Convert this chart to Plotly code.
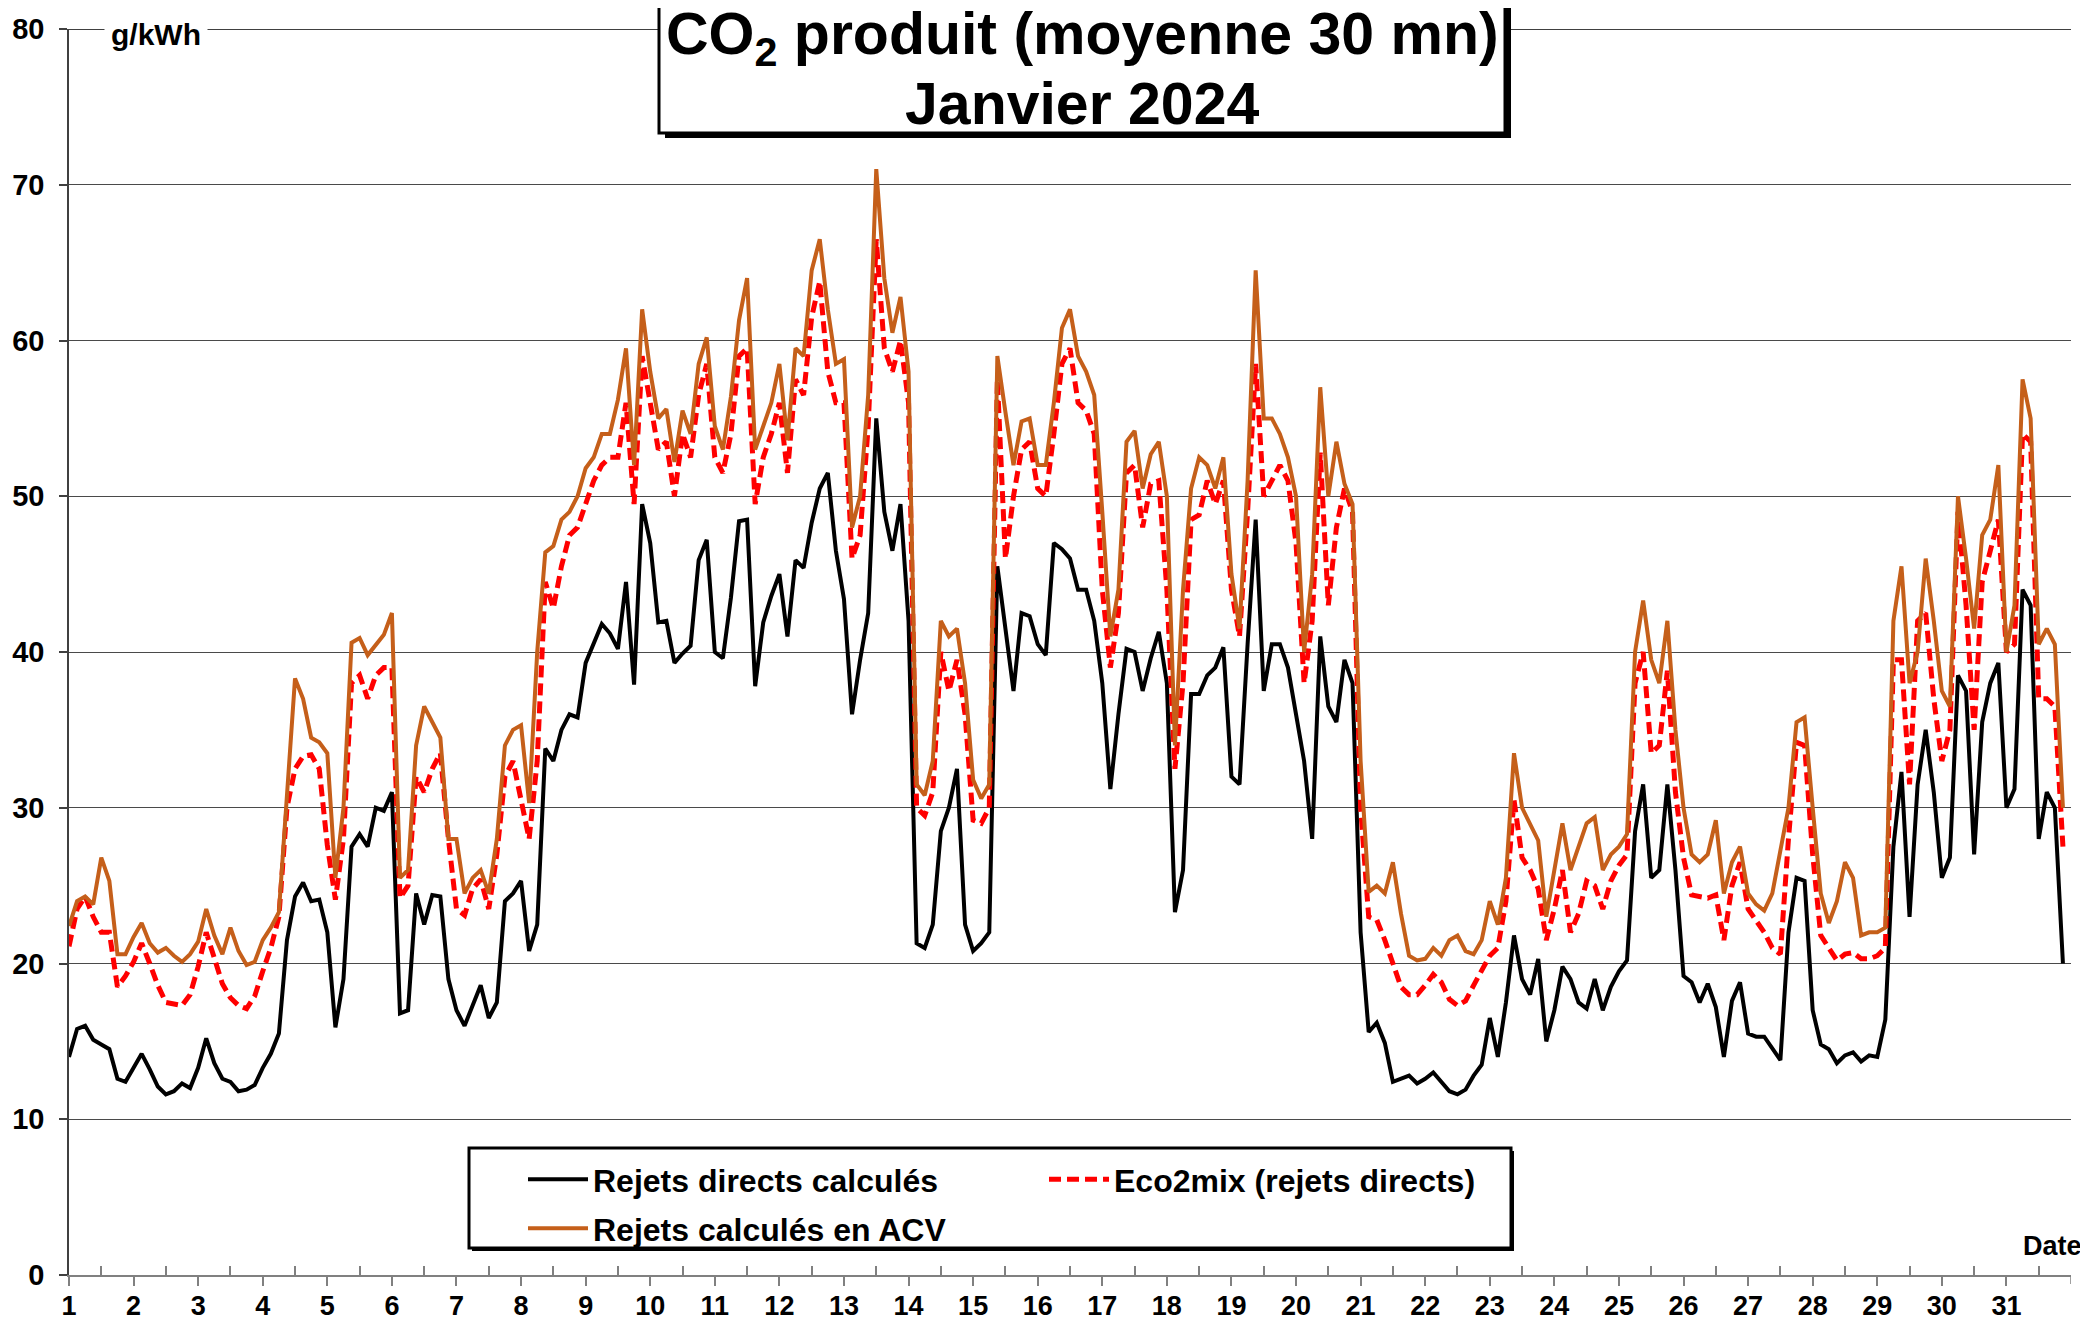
import numpy as np
import plotly.graph_objects as go

# Valeurs : 8 points par jour (pas de 3 h), du 1er au 31 janvier 2024
rejets_directs = [
    14.0, 15.8, 16.0, 15.1, 14.8, 14.5, 12.6, 12.4,  # 1
    13.3, 14.2, 13.2, 12.1, 11.6, 11.8, 12.3, 12.0,  # 2
    13.3, 15.2, 13.6, 12.6, 12.4, 11.8, 11.9, 12.2,  # 3
    13.3, 14.2, 15.5, 21.5, 24.3, 25.2, 24.0, 24.1,  # 4
    22.0, 15.9, 19.0, 27.5, 28.3, 27.5, 30.0, 29.8,  # 5
    31.0, 16.8, 17.0, 24.5, 22.5, 24.4, 24.3, 19.0,  # 6
    17.0, 16.0, 17.3, 18.6, 16.5, 17.5, 24.0, 24.5,  # 7
    25.3, 20.8, 22.5, 33.8, 33.0, 35.0, 36.0, 35.8,  # 8
    39.3, 40.5, 41.8, 41.2, 40.2, 44.5, 37.9, 49.5,  # 9
    47.0, 41.9, 42.0, 39.3, 39.9, 40.4, 45.9, 47.2,  # 10
    40.0, 39.6, 43.5, 48.4, 48.5, 37.8, 41.9, 43.6,  # 11
    45.0, 41.0, 45.9, 45.4, 48.3, 50.5, 51.5, 46.5,  # 12
    43.4, 36.0, 39.5, 42.5, 55.0, 49.0, 46.5, 49.5,  # 13
    42.0, 21.3, 21.0, 22.5, 28.5, 30.0, 32.5, 22.5,  # 14
    20.8, 21.3, 22.0, 45.5, 41.5, 37.5, 42.5, 42.3,  # 15
    40.5, 39.8, 47.0, 46.6, 46.0, 44.0, 44.0, 42.0,  # 16
    38.0, 31.2, 36.0, 40.2, 40.0, 37.5, 39.6, 41.3,  # 17
    38.0, 23.3, 26.0, 37.3, 37.3, 38.5, 39.0, 40.3,  # 18
    32.0, 31.5, 40.5, 48.5, 37.5, 40.5, 40.5, 39.0,  # 19
    36.0, 33.0, 28.0, 41.0, 36.5, 35.5, 39.5, 38.0,  # 20
    22.0, 15.6, 16.2, 14.9, 12.4, 12.6, 12.8, 12.3,  # 21
    12.6, 13.0, 12.4, 11.8, 11.6, 11.9, 12.8, 13.5,  # 22
    16.5, 14.0, 17.5, 21.8, 19.0, 18.0, 20.3, 15.0,  # 23
    17.0, 19.8, 19.0, 17.5, 17.1, 19.0, 17.0, 18.5,  # 24
    19.5, 20.2, 28.5, 31.5, 25.5, 26.0, 31.5, 26.0,  # 25
    19.2, 18.8, 17.5, 18.7, 17.2, 14.0, 17.6, 18.8,  # 26
    15.5, 15.3, 15.3, 14.6, 13.8, 22.0, 25.5, 25.3,  # 27
    17.0, 14.8, 14.5, 13.6, 14.1, 14.3, 13.7, 14.1,  # 28
    14.0, 16.4, 27.5, 32.3, 23.0, 31.5, 35.0, 31.0,  # 29
    25.5, 26.8, 38.5, 37.5, 27.0, 35.5, 38.0, 39.3,  # 30
    30.0, 31.2, 44.0, 43.0, 28.0, 31.0, 30.0, 20.0,  # 31
]

eco2mix = [
    21.1, 23.5, 24.3, 23.0, 22.0, 22.0, 18.5, 19.2,  # 1
    20.1, 21.3, 20.0, 18.6, 17.5, 17.4, 17.3, 18.0,  # 2
    19.8, 22.0, 20.3, 18.7, 17.8, 17.3, 17.1, 17.9,  # 3
    19.5, 21.0, 23.0, 30.0, 32.5, 33.3, 33.4, 32.5,  # 4
    27.6, 24.1, 28.0, 38.0, 38.5, 37.0, 38.5, 39.0,  # 5
    39.0, 24.2, 25.0, 32.0, 31.0, 32.5, 33.5, 28.0,  # 6
    23.5, 23.1, 24.8, 25.4, 23.5, 27.0, 32.0, 33.0,  # 7
    30.5, 28.0, 33.0, 44.5, 42.8, 45.5, 47.5, 48.0,  # 8
    49.5, 51.0, 52.0, 52.5, 52.5, 56.0, 49.5, 59.0,  # 9
    56.0, 53.0, 53.5, 50.0, 54.0, 52.5, 56.5, 58.5,  # 10
    52.5, 51.5, 54.0, 59.0, 59.5, 49.5, 52.5, 54.0,  # 11
    56.0, 51.5, 57.5, 56.5, 61.5, 63.8, 58.0, 56.0,  # 12
    56.0, 46.0, 47.5, 54.5, 66.5, 59.5, 58.0, 60.0,  # 13
    56.0, 30.0, 29.5, 31.0, 40.0, 37.5, 39.5, 36.0,  # 14
    29.2, 29.0, 30.0, 57.5, 46.0, 50.0, 53.0, 53.5,  # 15
    50.5, 50.0, 54.0, 58.5, 59.5, 56.0, 55.5, 54.0,  # 16
    44.0, 39.0, 42.5, 51.5, 52.0, 48.0, 50.8, 51.0,  # 17
    44.0, 32.5, 38.0, 48.5, 48.8, 51.0, 49.5, 51.0,  # 18
    44.0, 41.0, 49.0, 58.5, 50.0, 51.0, 52.0, 51.0,  # 19
    47.0, 38.0, 42.0, 52.8, 43.0, 48.0, 50.5, 49.0,  # 20
    30.0, 23.0, 22.8, 21.5, 19.9, 18.5, 18.0, 18.0,  # 21
    18.6, 19.3, 18.8, 17.7, 17.3, 17.6, 18.6, 19.5,  # 22
    20.5, 21.0, 24.0, 30.5, 26.8, 26.0, 24.8, 21.5,  # 23
    23.5, 26.0, 22.0, 23.2, 25.3, 25.0, 23.5, 25.3,  # 24
    26.3, 27.0, 38.0, 40.0, 33.5, 34.0, 38.8, 31.0,  # 25
    26.8, 24.4, 24.3, 24.2, 24.4, 21.5, 25.0, 26.5,  # 26
    23.5, 22.7, 22.0, 21.0, 20.6, 28.0, 34.2, 34.0,  # 27
    27.0, 21.8, 21.0, 20.2, 20.6, 20.7, 20.3, 20.3,  # 28
    20.5, 21.0, 39.5, 39.5, 31.5, 42.0, 42.5, 37.0,  # 29
    33.0, 35.0, 49.0, 43.0, 35.0, 44.5, 46.5, 48.5,  # 30
    40.0, 40.5, 54.0, 53.5, 37.0, 37.0, 36.5, 27.5,  # 31
]

rejets_acv = [
    22.4, 24.0, 24.3, 23.8, 26.8, 25.3, 20.6, 20.6,  # 1
    21.7, 22.6, 21.3, 20.7, 21.0, 20.5, 20.1, 20.6,  # 2
    21.4, 23.5, 21.8, 20.6, 22.3, 20.8, 19.9, 20.1,  # 3
    21.5, 22.3, 23.3, 31.0, 38.3, 37.0, 34.5, 34.2,  # 4
    33.5, 25.5, 30.0, 40.6, 40.9, 39.8, 40.5, 41.1,  # 5
    42.5, 25.5, 26.0, 34.0, 36.5, 35.5, 34.5, 28.0,  # 6
    28.0, 24.5, 25.5, 26.0, 24.5, 28.0, 34.0, 35.0,  # 7
    35.3, 30.3, 40.0, 46.4, 46.8, 48.5, 49.0, 50.0,  # 8
    51.8, 52.5, 54.0, 54.0, 56.2, 59.5, 52.0, 62.0,  # 9
    58.0, 55.0, 55.6, 52.2, 55.5, 54.0, 58.5, 60.2,  # 10
    54.5, 53.0, 56.4, 61.3, 64.0, 53.0, 54.5, 56.0,  # 11
    58.5, 53.6, 59.5, 59.0, 64.5, 66.5, 62.0, 58.5,  # 12
    58.8, 48.0, 50.0, 56.5, 71.0, 64.0, 60.5, 62.8,  # 13
    58.0, 31.5, 30.8, 33.0, 42.0, 41.0, 41.5, 38.0,  # 14
    31.8, 30.6, 31.5, 59.0, 55.4, 52.0, 54.8, 55.0,  # 15
    52.0, 52.0, 56.0, 60.8, 62.0, 59.0, 58.0, 56.5,  # 16
    49.0, 41.0, 44.0, 53.5, 54.2, 50.5, 52.7, 53.5,  # 17
    50.0, 34.0, 44.0, 50.5, 52.5, 52.0, 50.5, 52.5,  # 18
    45.0, 41.5, 51.0, 64.5, 55.0, 55.0, 54.0, 52.5,  # 19
    50.0, 40.0, 45.0, 57.0, 50.0, 53.5, 50.8, 49.5,  # 20
    33.0, 24.6, 25.0, 24.5, 26.5, 23.2, 20.5, 20.2,  # 21
    20.3, 21.0, 20.5, 21.5, 21.8, 20.8, 20.6, 21.5,  # 22
    24.0, 22.5, 25.5, 33.5, 30.0, 29.0, 27.9, 23.0,  # 23
    26.0, 29.0, 26.0, 27.5, 29.0, 29.4, 26.0, 27.0,  # 24
    27.5, 28.3, 40.0, 43.3, 39.5, 38.0, 42.0, 35.0,  # 25
    30.0, 27.0, 26.5, 27.0, 29.2, 24.5, 26.5, 27.5,  # 26
    24.5, 23.8, 23.4, 24.5, 27.2, 30.0, 35.5, 35.8,  # 27
    30.0, 24.5, 22.6, 24.0, 26.5, 25.5, 21.8, 22.0,  # 28
    22.0, 22.3, 42.0, 45.5, 38.0, 40.0, 46.0, 42.0,  # 29
    37.5, 36.5, 50.0, 46.0, 41.5, 47.5, 48.5, 52.0,  # 30
    40.0, 43.0, 57.5, 55.0, 40.5, 41.5, 40.5, 30.0,  # 31
]

jours = 1 + np.arange(len(rejets_directs)) / 8  # temps en jours
jours_ticks = list(range(1, 32))
jours_labels = [str(j) for j in jours_ticks]

FONT = 'Liberation Sans, Arial, sans-serif'
W, H = 2088, 1326
OFF = 8  # marge du <body> de la page html
ML, MR, MT, MB = 61, 25, 21, 59
PW, PH = W - ML - MR, H - MT - MB


# positions en pixels de l'écran -> coordonnées "paper"
def px_x(px):
    return (px - OFF - ML) / PW


def px_y(py):
    return (H - MB - (py - OFF)) / PH


fig = go.Figure()
fig.add_trace(go.Scatter(x=jours, y=rejets_directs, name='Rejets directs calculés', mode='lines',
                         line=dict(color='black', width=4), legend='legend'))
fig.add_trace(go.Scatter(x=jours, y=eco2mix, name='Eco2mix (rejets directs)', mode='lines',
                         line=dict(color='#FF0000', width=5, dash='12px,6px'), legend='legend'))
fig.add_trace(go.Scatter(x=jours, y=rejets_acv, name='Rejets calculés en ACV', mode='lines',
                         line=dict(color='#C55F1A', width=4), legend='legend2'))

shapes = [
    # ligne du haut (80)
    dict(type='line', xref='paper', yref='y', x0=px_x(61), x1=1, y0=80, y1=80,
         line=dict(color='black', width=1.5), layer='below'),
    # graduation de fin d'axe (32)
    dict(type='line', xref='x', yref='paper', x0=32, x1=32, y0=0, y1=-9 / PH,
         line=dict(color='#808080', width=1.5)),
    # cadre du titre (ombre + cadre)
    dict(type='rect', xref='paper', yref='paper', x0=px_x(665), x1=px_x(1511), y0=px_y(138), y1=px_y(-20),
         fillcolor='black', line=dict(width=0), layer='above'),
    dict(type='rect', xref='paper', yref='paper', x0=px_x(659), x1=px_x(1505), y0=px_y(133), y1=px_y(-20),
         fillcolor='white', line=dict(color='black', width=3), layer='above'),
    # cadre de la légende
    dict(type='rect', xref='paper', yref='paper', x0=px_x(472), x1=px_x(1514), y0=px_y(1251), y1=px_y(1151),
         fillcolor='black', line=dict(width=0), layer='above'),
    dict(type='rect', xref='paper', yref='paper', x0=px_x(469), x1=px_x(1511), y0=px_y(1248), y1=px_y(1148),
         fillcolor='white', line=dict(color='black', width=3), layer='above'),
]

annotations = [
    dict(text='CO<sub>2</sub> produit (moyenne 30 mn)', xref='paper', yref='paper',
         x=px_x(1082), y=px_y(38), xanchor='center', yanchor='middle', showarrow=False,
         font=dict(family=FONT, size=59, color='black', weight='bold')),
    dict(text='Janvier 2024', xref='paper', yref='paper',
         x=px_x(1082), y=px_y(104), xanchor='center', yanchor='middle', showarrow=False,
         font=dict(family=FONT, size=59, color='black', weight='bold')),
    dict(text='g/kWh', xref='paper', yref='paper', x=px_x(156), y=px_y(34),
         xanchor='center', yanchor='middle', showarrow=False, bgcolor='white', borderpad=6,
         font=dict(family=FONT, size=30, color='black', weight='bold')),
    dict(text='Date', xref='paper', yref='paper', x=px_x(2084), y=px_y(1246),
         xanchor='right', yanchor='middle', showarrow=False,
         font=dict(family=FONT, size=27, color='black', weight='bold')),
]

fig.update_layout(
    width=W, height=H, template='none',
    paper_bgcolor='white', plot_bgcolor='white',
    margin=dict(l=ML, r=MR, t=MT, b=MB, pad=0, autoexpand=False),
    font=dict(family=FONT, color='black'),
    shapes=shapes, annotations=annotations,
    showlegend=True,
    legend=dict(orientation='h', x=px_x(523), y=px_y(1152), xanchor='left', yanchor='top',
                bgcolor='rgba(0,0,0,0)', borderwidth=0, entrywidth=446, itemwidth=60,
                font=dict(family=FONT, size=32, color='black', weight='bold')),
    legend2=dict(orientation='h', x=px_x(523), y=px_y(1201), xanchor='left', yanchor='top',
                 bgcolor='rgba(0,0,0,0)', borderwidth=0, itemwidth=60,
                 font=dict(family=FONT, size=32, color='black', weight='bold')),
)

fig.update_xaxes(
    range=[1, 32], tickmode='array', tickvals=jours_ticks, ticktext=jours_labels,
    automargin=False,
    ticks='outside', ticklen=9, tickwidth=1.5, tickcolor='#808080',
    showline=True, linecolor='#808080', linewidth=1.5, showgrid=False, zeroline=False,
    ticklabelstandoff=-3,
    tickfont=dict(family=FONT, size=27, color='black', weight='bold'),
    minor=dict(tick0=1.5, dtick=1, ticks='inside', ticklen=9, tickwidth=1.5, tickcolor='#808080', showgrid=False),
)
fig.update_yaxes(
    range=[0, 80], tickmode='linear', tick0=0, dtick=10,
    automargin=False,
    ticks='outside', ticklen=8, tickwidth=1.5, tickcolor='#404040',
    showline=True, linecolor='#404040', linewidth=1.5,
    showgrid=True, gridcolor='#4a4a4a', gridwidth=1.3, zeroline=False,
    ticklabelstandoff=9,
    tickfont=dict(family=FONT, size=29, color='black', weight='bold'),
)

fig.write_html('out.html')
